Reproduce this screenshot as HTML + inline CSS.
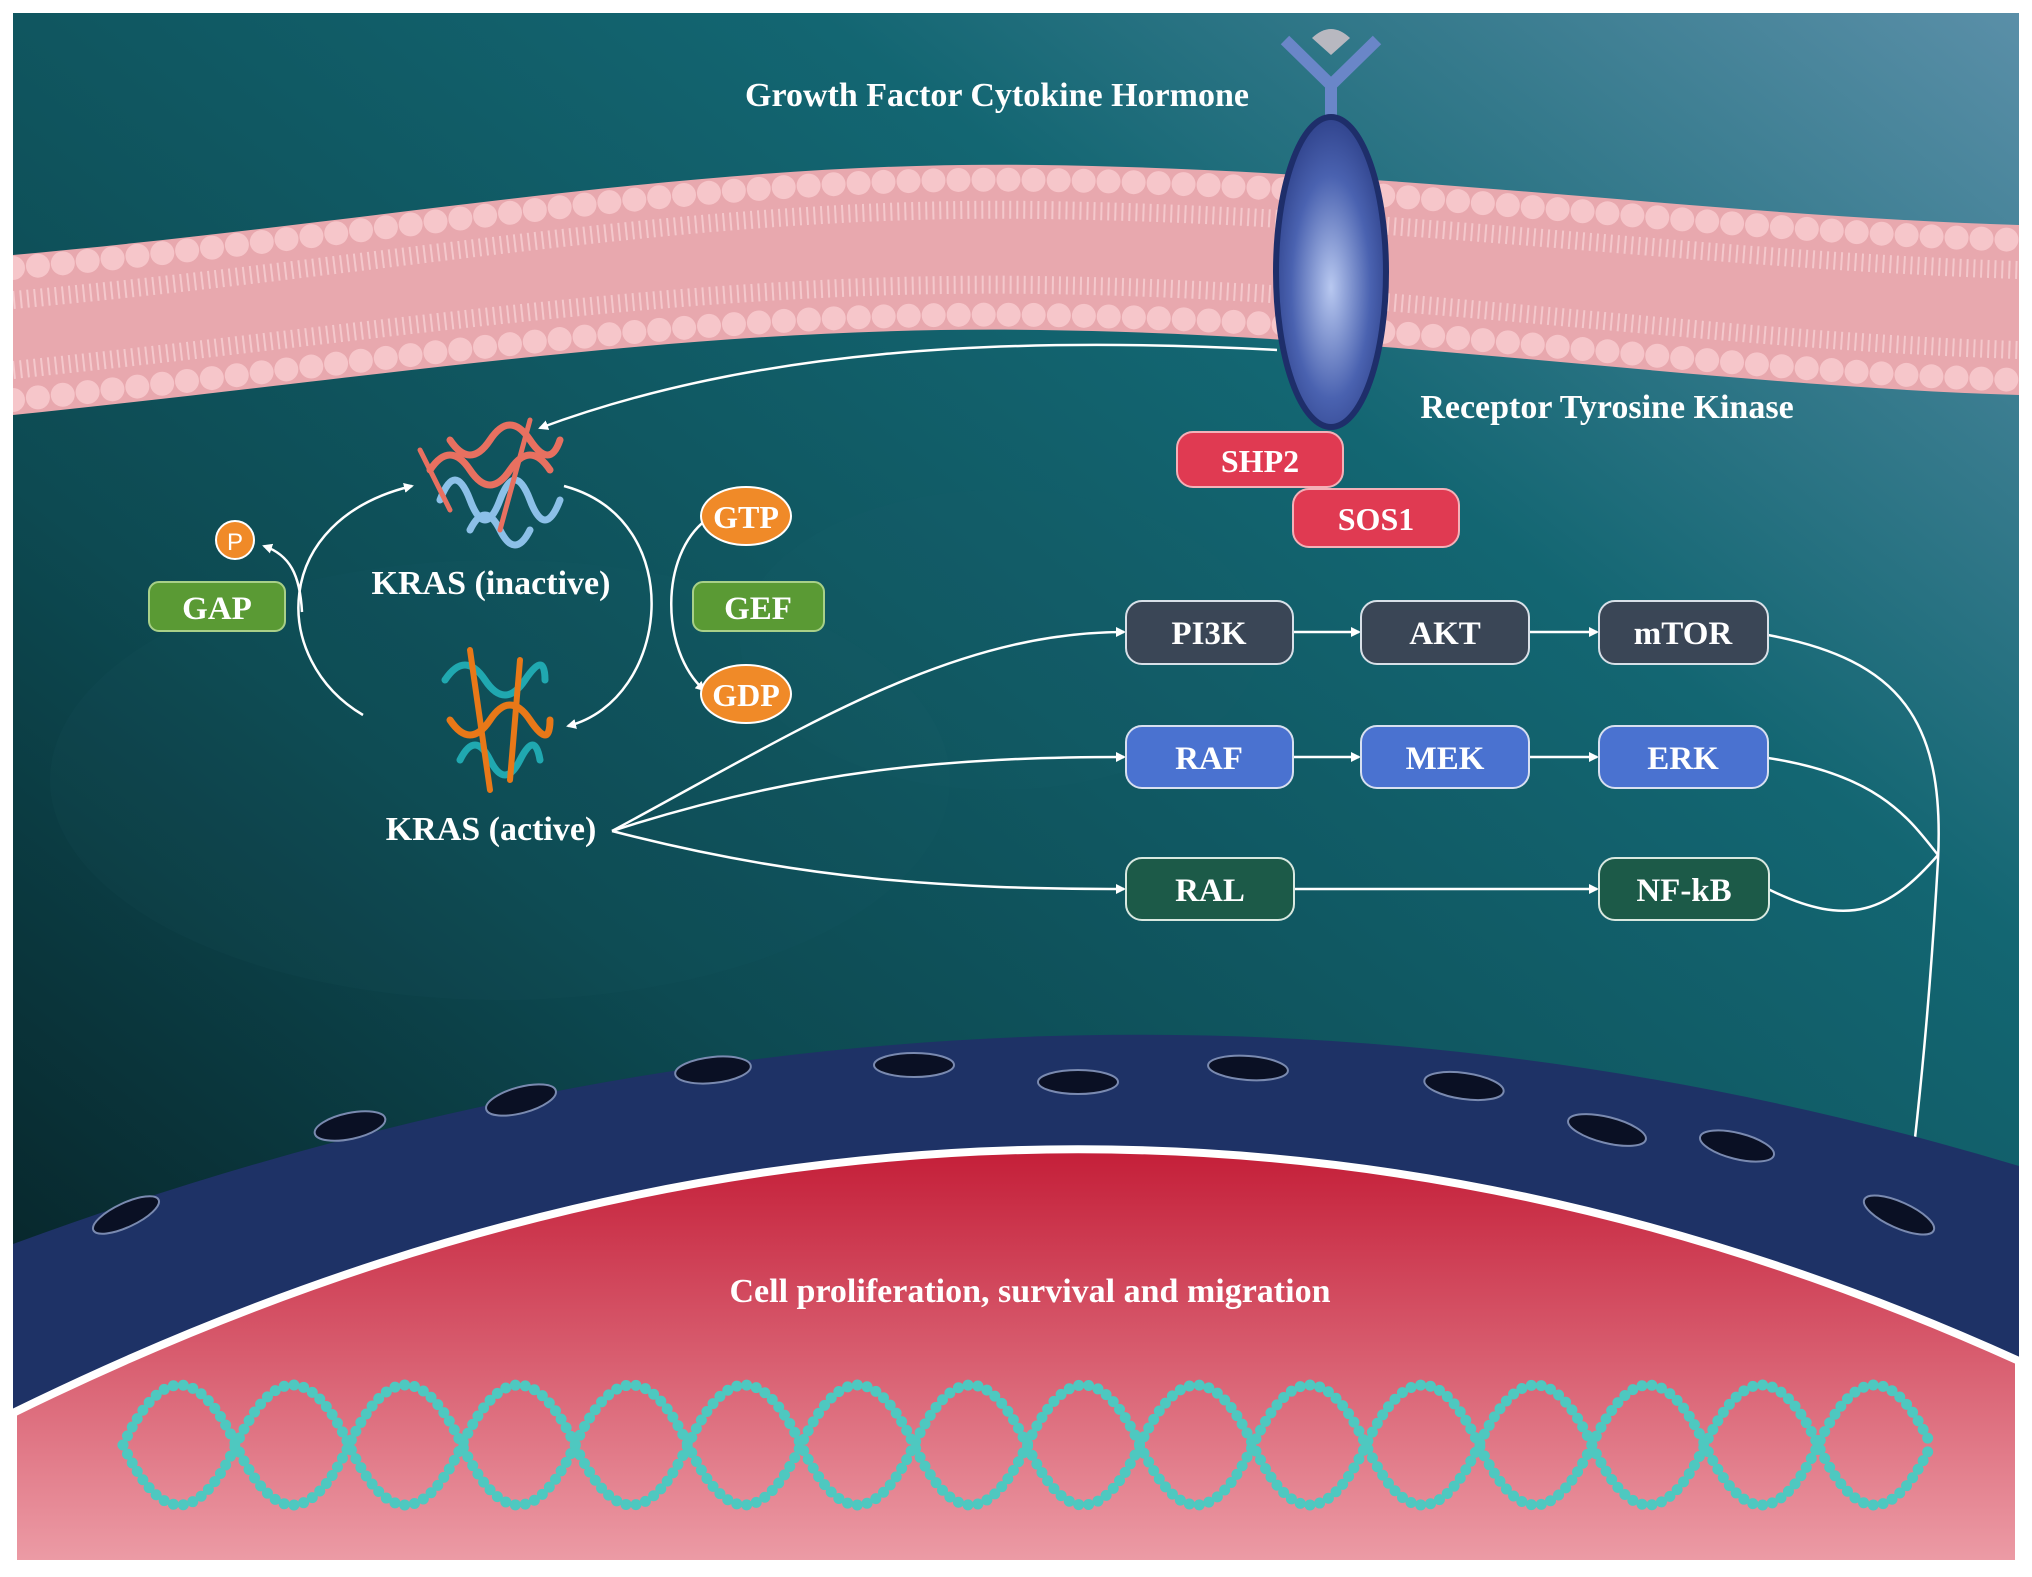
<!DOCTYPE html>
<html><head><meta charset="utf-8"><style>
html,body{margin:0;padding:0;background:#fff}
svg{display:block}
text{font-family:"Liberation Serif",serif;font-weight:bold;fill:#fff}
</style></head><body>
<svg width="2032" height="1577" viewBox="0 0 2032 1577" xmlns="http://www.w3.org/2000/svg">
<defs>
<linearGradient id="bg" x1="0" y1="1" x2="1" y2="0">
<stop offset="0" stop-color="#061a1e"/><stop offset="0.35" stop-color="#0d4a52"/><stop offset="0.7" stop-color="#136672"/><stop offset="1" stop-color="#5a8fa8"/>
</linearGradient>
<linearGradient id="nuc" x1="0" y1="0" x2="0" y2="1">
<stop offset="0" stop-color="#c41e38"/><stop offset="1" stop-color="#ec9ca6"/>
</linearGradient>
<radialGradient id="rec" cx="0.5" cy="0.55" r="0.6">
<stop offset="0" stop-color="#b8c8f0"/><stop offset="0.6" stop-color="#4a62b0"/><stop offset="1" stop-color="#2a3c84"/>
</radialGradient>
<pattern id="rungs" width="9" height="10" patternUnits="userSpaceOnUse">
<rect x="0" y="0" width="3" height="10" fill="#d8a030"/><rect x="4.5" y="0" width="2" height="10" fill="#c05050"/>
</pattern>
<marker id="ah" markerWidth="10" markerHeight="10" refX="8" refY="5" orient="auto" markerUnits="userSpaceOnUse">
<path d="M0,0 L10,5 L0,10 Z" fill="#fff"/>
</marker>
<clipPath id="dnaclip"><path d="M123,1435 q56.5,-120 113,0 t113,0 t113,0 t113,0 t113,0 t113,0 t113,0 t113,0 t113,0 t113,0 t113,0 t113,0 t113,0 t113,0 t113,0 t113,0 q-56.5,120 -113,0 t-113,0 t-113,0 t-113,0 t-113,0 t-113,0 t-113,0 t-113,0 t-113,0 t-113,0 t-113,0 t-113,0 t-113,0 t-113,0 t-113,0 t-113,0 Z"/></clipPath>
</defs>
<rect width="2032" height="1577" fill="#fff"/>
<rect x="13" y="13" width="2006" height="1551" fill="url(#bg)"/>
<ellipse cx="500" cy="780" rx="450" ry="220" fill="#2a6a70" opacity="0.08"/>
<ellipse cx="1000" cy="640" rx="260" ry="150" fill="#2a6a70" opacity="0.08"/>

<!-- membrane -->
<path d="M13,255 C400,220 700,160 1040,165 C1400,170 1700,215 2019,225 L2019,395 C1700,385 1400,335 1040,330 C700,325 400,375 13,415 Z" fill="#e8a8ae"/>
<path d="M13,300 C400,265 700,205 1040,210 C1400,215 1700,260 2019,270 M13,370 C400,330 700,280 1040,285 C1400,290 1700,340 2019,350" fill="none" stroke="#f4c8cc" stroke-width="18" stroke-dasharray="2 5"/>
<path d="M13,268 C400,233 700,175 1040,180 C1400,185 1700,230 2019,240" fill="none" stroke="#f6c6ca" stroke-width="24" stroke-linecap="round" stroke-dasharray="0 25"/>
<path d="M13,400 C400,360 700,310 1040,315 C1400,320 1700,370 2019,380" fill="none" stroke="#f6c6ca" stroke-width="24" stroke-linecap="round" stroke-dasharray="0 25"/>

<!-- receptor -->
<path d="M1285,40 L1331,85 L1377,40" fill="none" stroke="#6a86c8" stroke-width="12" stroke-linejoin="round"/>
<path d="M1312,38 Q1331,20 1350,38 L1331,55 Z" fill="#b8b8c0"/>
<rect x="1325" y="80" width="12" height="40" fill="#6a86c8"/>
<ellipse cx="1331" cy="272" rx="55" ry="155" fill="url(#rec)" stroke="#1e2e6a" stroke-width="6"/>
<text x="997" y="106" font-size="34" text-anchor="middle">Growth Factor Cytokine Hormone</text>
<text x="1607" y="418" font-size="34" text-anchor="middle">Receptor Tyrosine Kinase</text>

<!-- SHP2 / SOS1 -->
<rect x="1177" y="432" width="166" height="55" rx="16" fill="#e03a52" stroke="#f4b0b8" stroke-width="2"/>
<text x="1260" y="472" font-size="32" text-anchor="middle">SHP2</text>
<rect x="1293" y="489" width="166" height="58" rx="16" fill="#e03a52" stroke="#f4b0b8" stroke-width="2"/>
<text x="1376" y="530" font-size="32" text-anchor="middle">SOS1</text>

<path d="M1277,350 C1000,335 750,350 540,428" fill="none" stroke="#fff" stroke-width="2.5" marker-end="url(#ah)"/>

<!-- proteins -->
<g fill="none" stroke-width="7" stroke-linecap="round">
<path d="M430,470 q20,-30 40,0 t40,0 t40,0" stroke="#e87060"/>
<path d="M440,500 q15,-40 30,0 t30,0 t30,0 t30,0" stroke="#8cc0e8"/>
<path d="M450,440 q20,30 40,0 t40,0 t30,0" stroke="#e87060"/>
<path d="M470,530 q15,-30 30,0 t30,0" stroke="#8cc0e8"/>
<path d="M420,450 l30,60 M530,420 l-30,110" stroke="#e87060" stroke-width="5"/>
<path d="M445,680 q20,-30 40,0 t40,0 t20,0" stroke="#20a8b0"/>
<path d="M450,720 q20,30 40,0 t40,0 t20,0" stroke="#e87818"/>
<path d="M460,760 q15,-30 30,0 t30,0 t20,0" stroke="#20a8b0"/>
<path d="M470,650 l20,140 M520,660 l-10,120" stroke="#e87818" stroke-width="6"/>
</g>
<text x="491" y="594" font-size="34" text-anchor="middle">KRAS (inactive)</text>
<text x="491" y="840" font-size="34" text-anchor="middle">KRAS (active)</text>

<path d="M363,715 C270,660 270,520 412,486" fill="none" stroke="#fff" stroke-width="2.5" marker-end="url(#ah)"/>
<path d="M564,486 C690,520 670,700 568,726" fill="none" stroke="#fff" stroke-width="2.5" marker-end="url(#ah)"/>
<path d="M302,612 C300,575 290,555 264,546" fill="none" stroke="#fff" stroke-width="2.5" marker-end="url(#ah)"/>
<path d="M706,520 C660,555 660,650 704,690" fill="none" stroke="#fff" stroke-width="2.5" marker-end="url(#ah)"/>

<circle cx="235" cy="540" r="19" fill="#f08a28" stroke="#fff" stroke-width="2"/>
<text x="235" y="550" font-size="24" text-anchor="middle" style="font-weight:normal;font-family:'Liberation Sans',sans-serif">P</text>
<rect x="149" y="582" width="136" height="49" rx="10" fill="#5a9a34" stroke="#a8d088" stroke-width="2"/>
<text x="217" y="619" font-size="33" text-anchor="middle">GAP</text>
<rect x="693" y="582" width="131" height="49" rx="10" fill="#5a9a34" stroke="#a8d088" stroke-width="2"/>
<text x="758" y="619" font-size="33" text-anchor="middle">GEF</text>
<ellipse cx="746" cy="516" rx="45" ry="29" fill="#f08a28" stroke="#fff" stroke-width="2"/>
<text x="746" y="528" font-size="32" text-anchor="middle">GTP</text>
<ellipse cx="746" cy="694" rx="45" ry="29" fill="#f08a28" stroke="#fff" stroke-width="2"/>
<text x="746" y="706" font-size="32" text-anchor="middle">GDP</text>

<g fill="none" stroke="#fff" stroke-width="2.5">
<path d="M612,831 C800,730 950,632 1124,632" marker-end="url(#ah)"/>
<path d="M612,831 C800,770 950,757 1124,757" marker-end="url(#ah)"/>
<path d="M612,831 C800,880 950,889 1124,889" marker-end="url(#ah)"/>
<path d="M1293,632 L1359,632" marker-end="url(#ah)"/>
<path d="M1529,632 L1597,632" marker-end="url(#ah)"/>
<path d="M1293,757 L1359,757" marker-end="url(#ah)"/>
<path d="M1529,757 L1597,757" marker-end="url(#ah)"/>
<path d="M1295,889 L1597,889" marker-end="url(#ah)"/>
<path d="M1768,635 C1900,660 1945,720 1938,860 C1930,1000 1920,1100 1906,1216" marker-end="url(#ah)"/>
<path d="M1768,758 C1880,775 1910,820 1938,855"/>
<path d="M1768,889 C1850,930 1890,910 1938,855"/>
</g>
<g font-size="33" text-anchor="middle">
<rect x="1126" y="601" width="167" height="63" rx="16" fill="#3a4656" stroke="#d8e0e8" stroke-width="2"/>
<text x="1209" y="644">PI3K</text>
<rect x="1361" y="601" width="168" height="63" rx="16" fill="#3a4656" stroke="#d8e0e8" stroke-width="2"/>
<text x="1445" y="644">AKT</text>
<rect x="1599" y="601" width="169" height="63" rx="16" fill="#3a4656" stroke="#d8e0e8" stroke-width="2"/>
<text x="1683" y="644">mTOR</text>
<rect x="1126" y="726" width="167" height="62" rx="16" fill="#4a72d0" stroke="#d8e0f0" stroke-width="2"/>
<text x="1209" y="769">RAF</text>
<rect x="1361" y="726" width="168" height="62" rx="16" fill="#4a72d0" stroke="#d8e0f0" stroke-width="2"/>
<text x="1445" y="769">MEK</text>
<rect x="1599" y="726" width="169" height="62" rx="16" fill="#4a72d0" stroke="#d8e0f0" stroke-width="2"/>
<text x="1683" y="769">ERK</text>
<rect x="1126" y="858" width="168" height="62" rx="16" fill="#1c5a48" stroke="#d8e8e0" stroke-width="2"/>
<text x="1210" y="901">RAL</text>
<rect x="1599" y="858" width="170" height="62" rx="16" fill="#1c5a48" stroke="#d8e8e0" stroke-width="2"/>
<text x="1684" y="901">NF-kB</text>
</g>

<!-- nucleus -->
<path d="M13,1244 Q1030,869 2019,1166 L2019,1564 L13,1564 Z" fill="#1e3266"/>
<g fill="#0a1024" stroke="#7a8ab0" stroke-width="2">
<ellipse cx="126" cy="1215" rx="36" ry="12" transform="rotate(-25 126 1215)"/>
<ellipse cx="350" cy="1126" rx="36" ry="13" transform="rotate(-12 350 1126)"/>
<ellipse cx="521" cy="1100" rx="36" ry="13" transform="rotate(-15 521 1100)"/>
<ellipse cx="713" cy="1070" rx="38" ry="13" transform="rotate(-6 713 1070)"/>
<ellipse cx="914" cy="1065" rx="40" ry="12"/>
<ellipse cx="1078" cy="1082" rx="40" ry="12"/>
<ellipse cx="1248" cy="1068" rx="40" ry="12" transform="rotate(4 1248 1068)"/>
<ellipse cx="1464" cy="1086" rx="40" ry="13" transform="rotate(8 1464 1086)"/>
<ellipse cx="1607" cy="1130" rx="40" ry="13" transform="rotate(14 1607 1130)"/>
<ellipse cx="1737" cy="1146" rx="38" ry="13" transform="rotate(14 1737 1146)"/>
<ellipse cx="1899" cy="1215" rx="38" ry="13" transform="rotate(24 1899 1215)"/>
</g>
<path d="M13,1413 Q1030,913 2019,1361 L2019,1564 L13,1564 Z" fill="url(#nuc)" stroke="#fff" stroke-width="8"/>
<rect x="0" y="1564" width="2032" height="13" fill="#fff"/>
<rect x="2019" y="0" width="13" height="1577" fill="#fff"/>
<rect x="0" y="0" width="13" height="1577" fill="#fff"/>
<text x="1030" y="1302" font-size="34" text-anchor="middle">Cell proliferation, survival and migration</text>

<!-- DNA -->
<g transform="translate(0,10)">
<rect x="120" y="1300" width="1820" height="270" fill="url(#rungs)" clip-path="url(#dnaclip)" opacity="0.85"/>
<g fill="none" stroke="#4ec8c0" stroke-width="11" stroke-linecap="round" stroke-dasharray="0 10">
<path d="M123,1435 q56.5,-120 113,0 t113,0 t113,0 t113,0 t113,0 t113,0 t113,0 t113,0 t113,0 t113,0 t113,0 t113,0 t113,0 t113,0 t113,0 t113,0"/>
<path d="M123,1435 q56.5,120 113,0 t113,0 t113,0 t113,0 t113,0 t113,0 t113,0 t113,0 t113,0 t113,0 t113,0 t113,0 t113,0 t113,0 t113,0 t113,0"/>
</g>
</g>
</svg>
</body></html>
